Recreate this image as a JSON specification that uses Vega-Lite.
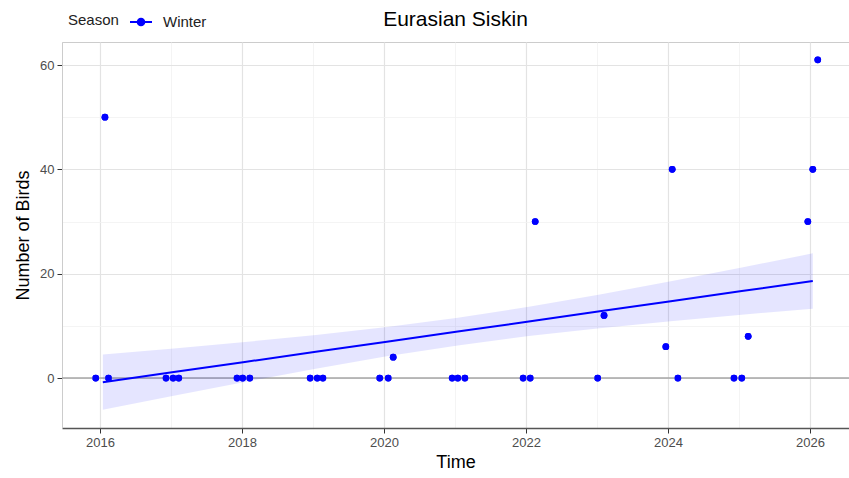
{
  "$schema": "https://vega.github.io/schema/vega-lite/v6.json",
  "width": 787,
  "height": 386,
  "autosize": {"type": "none"},
  "padding": {"left": 62, "top": 42, "right": 0, "bottom": 50},
  "title": {"text": "Eurasian Siskin", "fontSize": 21, "font": "Liberation Sans", "fontWeight": "normal", "color": "#000000", "anchor": "middle", "offset": 12, "dy": 32},
  "config": {
    "font": "Liberation Sans",
    "view": {"stroke": "#cccccc", "strokeWidth": 1},
    "axis": {"labelFont": "Liberation Sans", "titleFont": "Liberation Sans", "labelFontSize": 13, "labelColor": "#4d4d4d", "titleFontSize": 18, "titleFontWeight": "normal", "titleColor": "#000000", "tickSize": 5, "labelPadding": 3}
  },
  "datasets": {
    "birds": [
      {"t": 2015.94, "n": 0, "Season": "Winter"},
      {"t": 2016.07, "n": 50, "Season": "Winter"},
      {"t": 2016.12, "n": 0, "Season": "Winter"},
      {"t": 2016.93, "n": 0, "Season": "Winter"},
      {"t": 2017.03, "n": 0, "Season": "Winter"},
      {"t": 2017.11, "n": 0, "Season": "Winter"},
      {"t": 2017.93, "n": 0, "Season": "Winter"},
      {"t": 2018.01, "n": 0, "Season": "Winter"},
      {"t": 2018.11, "n": 0, "Season": "Winter"},
      {"t": 2018.96, "n": 0, "Season": "Winter"},
      {"t": 2019.06, "n": 0, "Season": "Winter"},
      {"t": 2019.14, "n": 0, "Season": "Winter"},
      {"t": 2019.94, "n": 0, "Season": "Winter"},
      {"t": 2020.06, "n": 0, "Season": "Winter"},
      {"t": 2020.13, "n": 4, "Season": "Winter"},
      {"t": 2020.96, "n": 0, "Season": "Winter"},
      {"t": 2021.04, "n": 0, "Season": "Winter"},
      {"t": 2021.14, "n": 0, "Season": "Winter"},
      {"t": 2021.96, "n": 0, "Season": "Winter"},
      {"t": 2022.06, "n": 0, "Season": "Winter"},
      {"t": 2022.13, "n": 30, "Season": "Winter"},
      {"t": 2023.01, "n": 0, "Season": "Winter"},
      {"t": 2023.1, "n": 12, "Season": "Winter"},
      {"t": 2023.97, "n": 6, "Season": "Winter"},
      {"t": 2024.06, "n": 40, "Season": "Winter"},
      {"t": 2024.14, "n": 0, "Season": "Winter"},
      {"t": 2024.93, "n": 0, "Season": "Winter"},
      {"t": 2025.04, "n": 0, "Season": "Winter"},
      {"t": 2025.13, "n": 8, "Season": "Winter"},
      {"t": 2025.97, "n": 30, "Season": "Winter"},
      {"t": 2026.04, "n": 40, "Season": "Winter"},
      {"t": 2026.11, "n": 61, "Season": "Winter"}
    ],
    "smooth": [
      {"t": 2016.04, "fit": -0.8, "lo": -6.1, "hi": 4.5, "Season": "Winter"},
      {"t": 2017.04, "fit": 1.14, "lo": -3.38, "hi": 5.66, "Season": "Winter"},
      {"t": 2018.04, "fit": 3.08, "lo": -0.74, "hi": 6.9, "Season": "Winter"},
      {"t": 2019.04, "fit": 5.02, "lo": 1.8, "hi": 8.24, "Season": "Winter"},
      {"t": 2020.04, "fit": 6.96, "lo": 4.16, "hi": 9.76, "Season": "Winter"},
      {"t": 2021.04, "fit": 8.9, "lo": 6.25, "hi": 11.55, "Season": "Winter"},
      {"t": 2022.04, "fit": 10.84, "lo": 8.04, "hi": 13.64, "Season": "Winter"},
      {"t": 2023.04, "fit": 12.78, "lo": 9.56, "hi": 16.0, "Season": "Winter"},
      {"t": 2024.04, "fit": 14.72, "lo": 10.9, "hi": 18.54, "Season": "Winter"},
      {"t": 2025.04, "fit": 16.66, "lo": 12.14, "hi": 21.18, "Season": "Winter"},
      {"t": 2026.04, "fit": 18.6, "lo": 13.3, "hi": 23.9, "Season": "Winter"}
    ],
    "zero": [{"y0": 0}]
  },
  "layer": [
    {
      "data": {"name": "birds"},
      "mark": {"type": "point", "filled": true, "size": 45, "opacity": 1},
      "encoding": {
        "x": {
          "field": "t", "type": "quantitative",
          "scale": {"domain": [2015.465, 2026.55], "nice": false, "zero": false},
          "axis": {
            "title": "Time",
            "values": [2016, 2017, 2018, 2019, 2020, 2021, 2022, 2023, 2024, 2025, 2026],
            "labelExpr": "datum.value % 2 == 0 ? format(datum.value, 'd') : ''",
            "grid": true,
            "gridColor": {"condition": {"test": "datum.value % 2 == 0", "value": "#e3e3e3"}, "value": "#f1f1f1"},
            "gridWidth": {"condition": {"test": "datum.value % 2 == 0", "value": 1.2}, "value": 0.8},
            "tickColor": {"condition": {"test": "datum.value % 2 == 0", "value": "#333333"}, "value": "transparent"},
            "domainColor": "#555555",
            "domainWidth": 1.5,
            "titlePadding": 4
          }
        },
        "y": {
          "field": "n", "type": "quantitative",
          "scale": {"domain": [-9.58, 64.41], "nice": false, "zero": false},
          "axis": {
            "title": "Number of Birds",
            "values": [0, 10, 20, 30, 40, 50, 60],
            "labelExpr": "datum.value % 20 == 0 ? format(datum.value, 'd') : ''",
            "grid": true,
            "gridColor": {"condition": {"test": "datum.value % 20 == 0", "value": "#e3e3e3"}, "value": "#f1f1f1"},
            "gridWidth": {"condition": {"test": "datum.value % 20 == 0", "value": 1.2}, "value": 0.8},
            "tickColor": {"condition": {"test": "datum.value % 20 == 0", "value": "#333333"}, "value": "transparent"},
            "domainColor": "#cccccc",
            "titlePadding": 7
          }
        },
        "color": {
          "field": "Season", "type": "nominal",
          "scale": {"domain": ["Winter"], "range": ["#0000ff"]},
          "legend": {
            "orient": "none", "legendX": 6, "legendY": -32,
            "direction": "horizontal", "titleOrient": "left",
            "title": "Season",
            "titleFontSize": 15, "titleFontWeight": "normal", "titleColor": "#222222",
            "labelFontSize": 15, "labelColor": "#222222",
            "titlePadding": 10, "labelOffset": 10,
            "symbolType": "M-1,0H1M-0.3,0a0.3,0.3 0 1,0 0.6,0a0.3,0.3 0 1,0 -0.6,0",
            "symbolSize": 484, "symbolStrokeWidth": 2, "symbolStrokeColor": "#0000ff", "symbolFillColor": "#0000ff"
          }
        }
      }
    },
    {
      "data": {"name": "zero"},
      "mark": {"type": "rule", "color": "#a6a6a6", "strokeWidth": 1.5},
      "encoding": {
        "y": {"field": "y0", "type": "quantitative", "title": "Number of Birds"}
      }
    },
    {
      "data": {"name": "smooth"},
      "mark": {"type": "area", "color": "#0000ff", "opacity": 0.1},
      "encoding": {
        "x": {"field": "t", "type": "quantitative", "title": "Time"},
        "y": {"field": "lo", "type": "quantitative", "title": "Number of Birds"},
        "y2": {"field": "hi"}
      }
    },
    {
      "data": {"name": "smooth"},
      "mark": {"type": "line", "color": "#0000ff", "strokeWidth": 2},
      "encoding": {
        "x": {"field": "t", "type": "quantitative", "title": "Time"},
        "y": {"field": "fit", "type": "quantitative", "title": "Number of Birds"}
      }
    },
    {
      "data": {"name": "birds"},
      "mark": {"type": "point", "filled": true, "size": 45, "opacity": 1, "color": "#0000ff"},
      "encoding": {
        "x": {"field": "t", "type": "quantitative", "title": "Time"},
        "y": {"field": "n", "type": "quantitative", "title": "Number of Birds"}
      }
    }
  ]
}
